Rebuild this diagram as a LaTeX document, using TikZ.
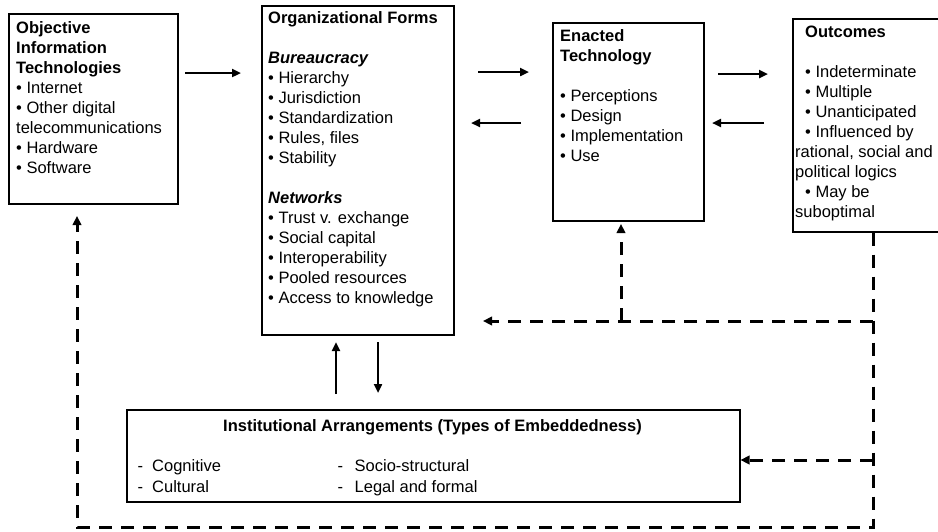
\documentclass[tikz,border=0pt]{standalone}
\usepackage{fontspec}
\setmainfont{Liberation Sans}
\usetikzlibrary{arrows.meta}
\newcommand\mystrut{\rule{0pt}{13pt}}
\begin{document}
\begin{tikzpicture}[x=1pt,y=-1pt,
  box/.style={draw, line width=1.5pt, inner sep=0pt, anchor=north west},
  txt/.style={anchor=north west, inner sep=0pt, align=left, font=\fontsize{16.5}{20}\selectfont},
  arr/.style={line width=2.6pt, -{Triangle[length=9pt,width=8pt]}},
  darr/.style={line width=3pt, dash pattern=on 13pt off 9pt, -{Triangle[length=9pt,width=8.5pt]}}]
\useasboundingbox (0,0) rectangle (938,531);
\clip (0,0) rectangle (938,531);

% boxes
\node[box, minimum width=169pt, minimum height=190pt] (oit) at (8,13) {};
\node[box, minimum width=192pt, minimum height=329pt] (of) at (261,5) {};
\node[box, minimum width=151pt, minimum height=198pt] (et) at (552,22) {};
\node[box, minimum width=200pt, minimum height=213pt] (out) at (792,18) {};
\node[box, minimum width=613pt, minimum height=92pt] (inst) at (126,409) {};

% texts
\node[txt] (toit) at (16,20.5) {\mystrut\textbf{Objective}\\ \textbf{Information}\\ \textbf{Technologies}\\ • Internet\\ • Other digital\\ telecommunications\\ • Hardware\\ • Software};
\node[txt] (tof) at (268,10.5) {\mystrut\textbf{Organizational Forms}\\[20pt] \textbf{\textit{Bureaucracy}}\\ • Hierarchy\\ • Jurisdiction\\ • Standardization\\ • Rules, files\\ • Stability\\[20pt] \textbf{\textit{Networks}}\\ • Trust v. exchange\\ • Social capital\\ • Interoperability\\ • Pooled resources\\ • Access to knowledge};
\node[txt] (tet) at (560,28.5) {\mystrut\textbf{Enacted}\\ \textbf{Technology}\\[20pt] • Perceptions\\ • Design\\ • Implementation\\ • Use};
\node[txt] (tout) at (795,24.5) {\mystrut\hspace*{10pt}\textbf{Outcomes}\\[20pt] \hspace*{10pt}• Indeterminate\\ \hspace*{10pt}• Multiple\\ \hspace*{10pt}• Unanticipated\\ \hspace*{10pt}• Influenced by\\ rational, social and\\ political logics\\ \hspace*{10pt}• May be\\ suboptimal};
\node[anchor=base, inner sep=0pt, font=\fontsize{16.5}{20}\selectfont\bfseries] (tinst) at (432.5,431) {Institutional Arrangements (Types of Embeddedness)};
\node[txt] (tcog) at (137.5,458.5) {\mystrut\makebox[14.5pt][l]{-}Cognitive\\[1pt] \makebox[14.5pt][l]{-}Cultural};
\node[txt] (tsoc) at (337.5,458.5) {\mystrut\makebox[17pt][l]{-}Socio-structural\\[1pt] \makebox[17pt][l]{-}Legal and formal};

% solid arrow ends
\coordinate (a1s) at (185,73);  \coordinate (a1e) at (241,73);
\coordinate (a2s) at (478,72);  \coordinate (a2e) at (529,72);
\coordinate (a3s) at (521,123); \coordinate (a3e) at (471,123);
\coordinate (a4s) at (718,74);  \coordinate (a4e) at (768,74);
\coordinate (a5s) at (764,123); \coordinate (a5e) at (712,123);
\coordinate (a6s) at (336,394); \coordinate (a6e) at (336,342);
\coordinate (a7s) at (378,342); \coordinate (a7e) at (378,393);

\draw[arr] (a1s) -- (a1e);
\draw[arr] (a2s) -- (a2e);
\draw[arr] (a3s) -- (a3e);
\draw[arr] (a4s) -- (a4e);
\draw[arr] (a5s) -- (a5e);
\draw[arr] (a6s) -- (a6e);
\draw[arr] (a7s) -- (a7e);

% dashed feedback loops
\coordinate (dtop) at (out.south -| 873,0);
\coordinate (dmid) at (873,321);
\coordinate (dinst) at (873,460);
\coordinate (dbr) at (873,527);
\coordinate (dbl) at (77,527);
\coordinate (doit) at (77,216);
\coordinate (dof) at (483,321);
\coordinate (det0) at (621,321);
\coordinate (det) at (621,224);

\draw[darr] (dtop) -- (dbr) -- (dbl) -- (doit);
\draw[darr] (dmid) -- (dof);
\draw[darr] (det0) -- (det);
\draw[darr] (dinst) -- (inst.east |- dinst);
\end{tikzpicture}
\end{document}
